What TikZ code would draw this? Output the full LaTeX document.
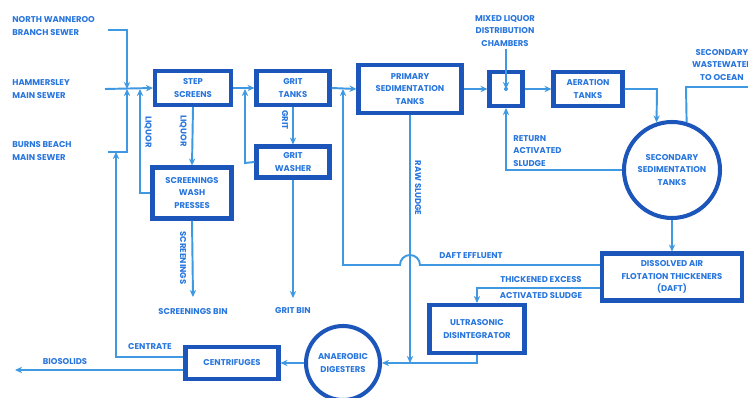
\documentclass[tikz,border=0pt]{standalone}
\usepackage{fontspec}
\setmainfont{Poppins}
\usetikzlibrary{arrows.meta}
\definecolor{boxblue}{RGB}{28,86,186}
\definecolor{lineblue}{RGB}{62,152,226}
\definecolor{textblue}{RGB}{40,118,222}
\begin{document}
\begin{tikzpicture}[x=0.02cm,y=-0.02cm,
  lbl/.style={text=textblue,font=\bfseries\fontsize{4.8}{7}\selectfont,inner sep=0pt,align=center},
  box/.style={draw=boxblue,line width=2.3pt,text=textblue,font=\bfseries\fontsize{4.8}{7}\selectfont,inner sep=0pt,align=center},
  rnd/.style={draw=boxblue,line width=2.3pt,circle,text=textblue,font=\bfseries\fontsize{4.8}{7}\selectfont,inner sep=0pt,align=center},
  flow/.style={draw=lineblue,line width=1.1pt,-{Stealth[length=4pt,width=3.6pt]}},
  pipe/.style={draw=lineblue,line width=1.1pt}]
\useasboundingbox (0,0) rectangle (748,398);
\clip (0,0) rectangle (748,398);
\fill[white] (0,0) rectangle (748,398);
% boxes
\node[box,minimum width={76*0.02cm},minimum height={34*0.02cm}] (ss) at (193,88) {STEP\\SCREENS};
\node[box,minimum width={73*0.02cm},minimum height={34*0.02cm}] (gt) at (293,88) {GRIT\\TANKS};
\node[box,minimum width={73*0.02cm},minimum height={31*0.02cm}] (gw) at (293,162) {GRIT\\WASHER};
\node[box,minimum width={103*0.02cm},minimum height={48*0.02cm}] (pst) at (410,89) {PRIMARY\\SEDIMENTATION\\TANKS};
\node[box,minimum width={33*0.02cm},minimum height={34*0.02cm}] (mlc) at (506,89) {};
\node[box,minimum width={69*0.02cm},minimum height={34*0.02cm}] (at) at (588,89) {AERATION\\TANKS};
\node[rnd,minimum size={96*0.02cm}] (sst) at (672,170) {SECONDARY\\SEDIMENTATION\\TANKS};
\node[box,minimum width={140*0.02cm},minimum height={47*0.02cm}] (daft) at (672,277) {DISSOLVED AIR\\FLOTATION THICKENERS\\(DAFT)};
\node[box,minimum width={95*0.02cm},minimum height={48*0.02cm}] (ud) at (477,329) {ULTRASONIC\\DISINTEGRATOR};
\node[rnd,minimum size={74*0.02cm}] (ad) at (343,363) {ANAEROBIC\\DIGESTERS};
\node[box,minimum width={93*0.02cm},minimum height={32*0.02cm}] (cf) at (232,363) {CENTRIFUGES};
\node[box,minimum width={79*0.02cm},minimum height={51*0.02cm}] (swp) at (192,193) {SCREENINGS\\WASH\\PRESSES};
% labels
\node[lbl,anchor=west,align=left] (nw) at (12,26) {NORTH WANNEROO\\BRANCH SEWER};
\node[lbl,anchor=west,align=left] (hm) at (12,89) {HAMMERSLEY\\MAIN SEWER};
\node[lbl,anchor=west,align=left] (bb) at (12,151) {BURNS BEACH\\MAIN SEWER};
\node[lbl] (mlcl) at (505,31) {MIXED LIQUOR\\DISTRIBUTION\\CHAMBERS};
\node[lbl] (swo) at (722,65) {SECONDARY\\WASTEWATER\\TO OCEAN};
\node[lbl,anchor=west,align=left] (rasl) at (513,151) {RETURN\\ACTIVATED\\SLUDGE};
\node[lbl] (defl) at (471,256) {DAFT EFFLUENT};
\node[lbl] (te1) at (541,280) {THICKENED EXCESS};
\node[lbl] (te2) at (541,296) {ACTIVATED SLUDGE};
\node[lbl] (cent) at (150,347) {CENTRATE};
\node[lbl] (bios) at (65,362) {BIOSOLIDS};
\node[lbl] (sbin) at (193,312) {SCREENINGS BIN};
\node[lbl] (gbin) at (293,311) {GRIT BIN};
\node[lbl,rotate=-90] (lq1) at (148,132) {LIQUOR};
\node[lbl,rotate=-90] (lq2) at (183,131) {LIQUOR};
\node[lbl,rotate=-90] (grl) at (285,120) {GRIT};
\node[lbl,rotate=-90] (scl) at (183,258) {SCREENINGS};
\node[lbl,rotate=-90] (rsl) at (418,188) {RAW SLUDGE};
% coordinates
\coordinate (nwe) at (108,30);
\coordinate (nwc) at (127,30);
\coordinate (m1) at (127,89);
\coordinate (bbe) at (108,152);
\coordinate (bbc) at (127,152);
\coordinate (hme) at (105,89);
\coordinate (ce) at (116,357);
\coordinate (cj) at (116,152);
\coordinate (lqc) at (140,193);
\coordinate (lqj) at (140,89);
\coordinate (gwc) at (245,163);
\coordinate (gwj) at (245,89);
\coordinate (gbe) at (293,298);
\coordinate (sbe) at (193,297);
\coordinate (de) at (343,265);
\coordinate (dej) at (343,89);
\coordinate (ha) at (420,265);
\coordinate (ptr) at (506,49);
\coordinate (ac) at (657,89);
\coordinate (oc) at (686,87);
\coordinate (oe) at (748,87);
\coordinate (tk) at (477,288);
\coordinate (rs) at (410,363);
\coordinate (bse) at (15,370);
% connectors
\draw[flow] (nwe) -- (nwc) -- (m1);
\draw[flow] (bbe) -- (bbc) -- (m1);
\draw[flow] (hme) -- (ss.west);
\draw[flow] (cf.west |- ce) -- (ce) -- (cj);
\draw[flow] (swp.west) -- (lqc) -- (lqj);
\draw[flow] (ss.south) -- (swp.north);
\draw[flow] (ss.east) -- (gt.west);
\draw[flow] (gw.west) -- (gwc) -- (gwj);
\draw[flow] (gt.south) -- (gw.north);
\draw[flow] (gw.south) -- (gbe);
\draw[flow] (swp.south) -- (sbe);
\draw[flow] (gt.east) -- (pst.west);
\draw[flow] (daft.west |- de) -- (ha) arc[start angle=0,end angle=-180,radius=10] -- (de) -- (dej);
\draw[flow] (pst.east) -- (mlc.west);
\draw[flow] (mlc.east) -- (at.west);
\draw[flow] (ptr) -- (mlc.center);
\fill[lineblue] (mlc.center) circle[radius=2];
\draw[flow] (at.east) -- (ac) -- (sst.108);
\draw[pipe] (sst.73) -- (oc) -- (oe);
\draw[flow] (sst.west) -- (mlc.south |- sst.west) -- (mlc.south);
\draw[flow] (sst.south) -- (daft.north);
\draw[flow] (daft.west |- tk) -- (tk) -- (ud.north);
\draw[flow] (pst.south) -- (rs);
\draw[flow] (ud.south) -- (ud.south |- ad.east) -- (ad.east);
\draw[flow] (ad.west) -- (cf.east);
\draw[flow] (cf.west |- bse) -- (bse);
\end{tikzpicture}
\end{document}
